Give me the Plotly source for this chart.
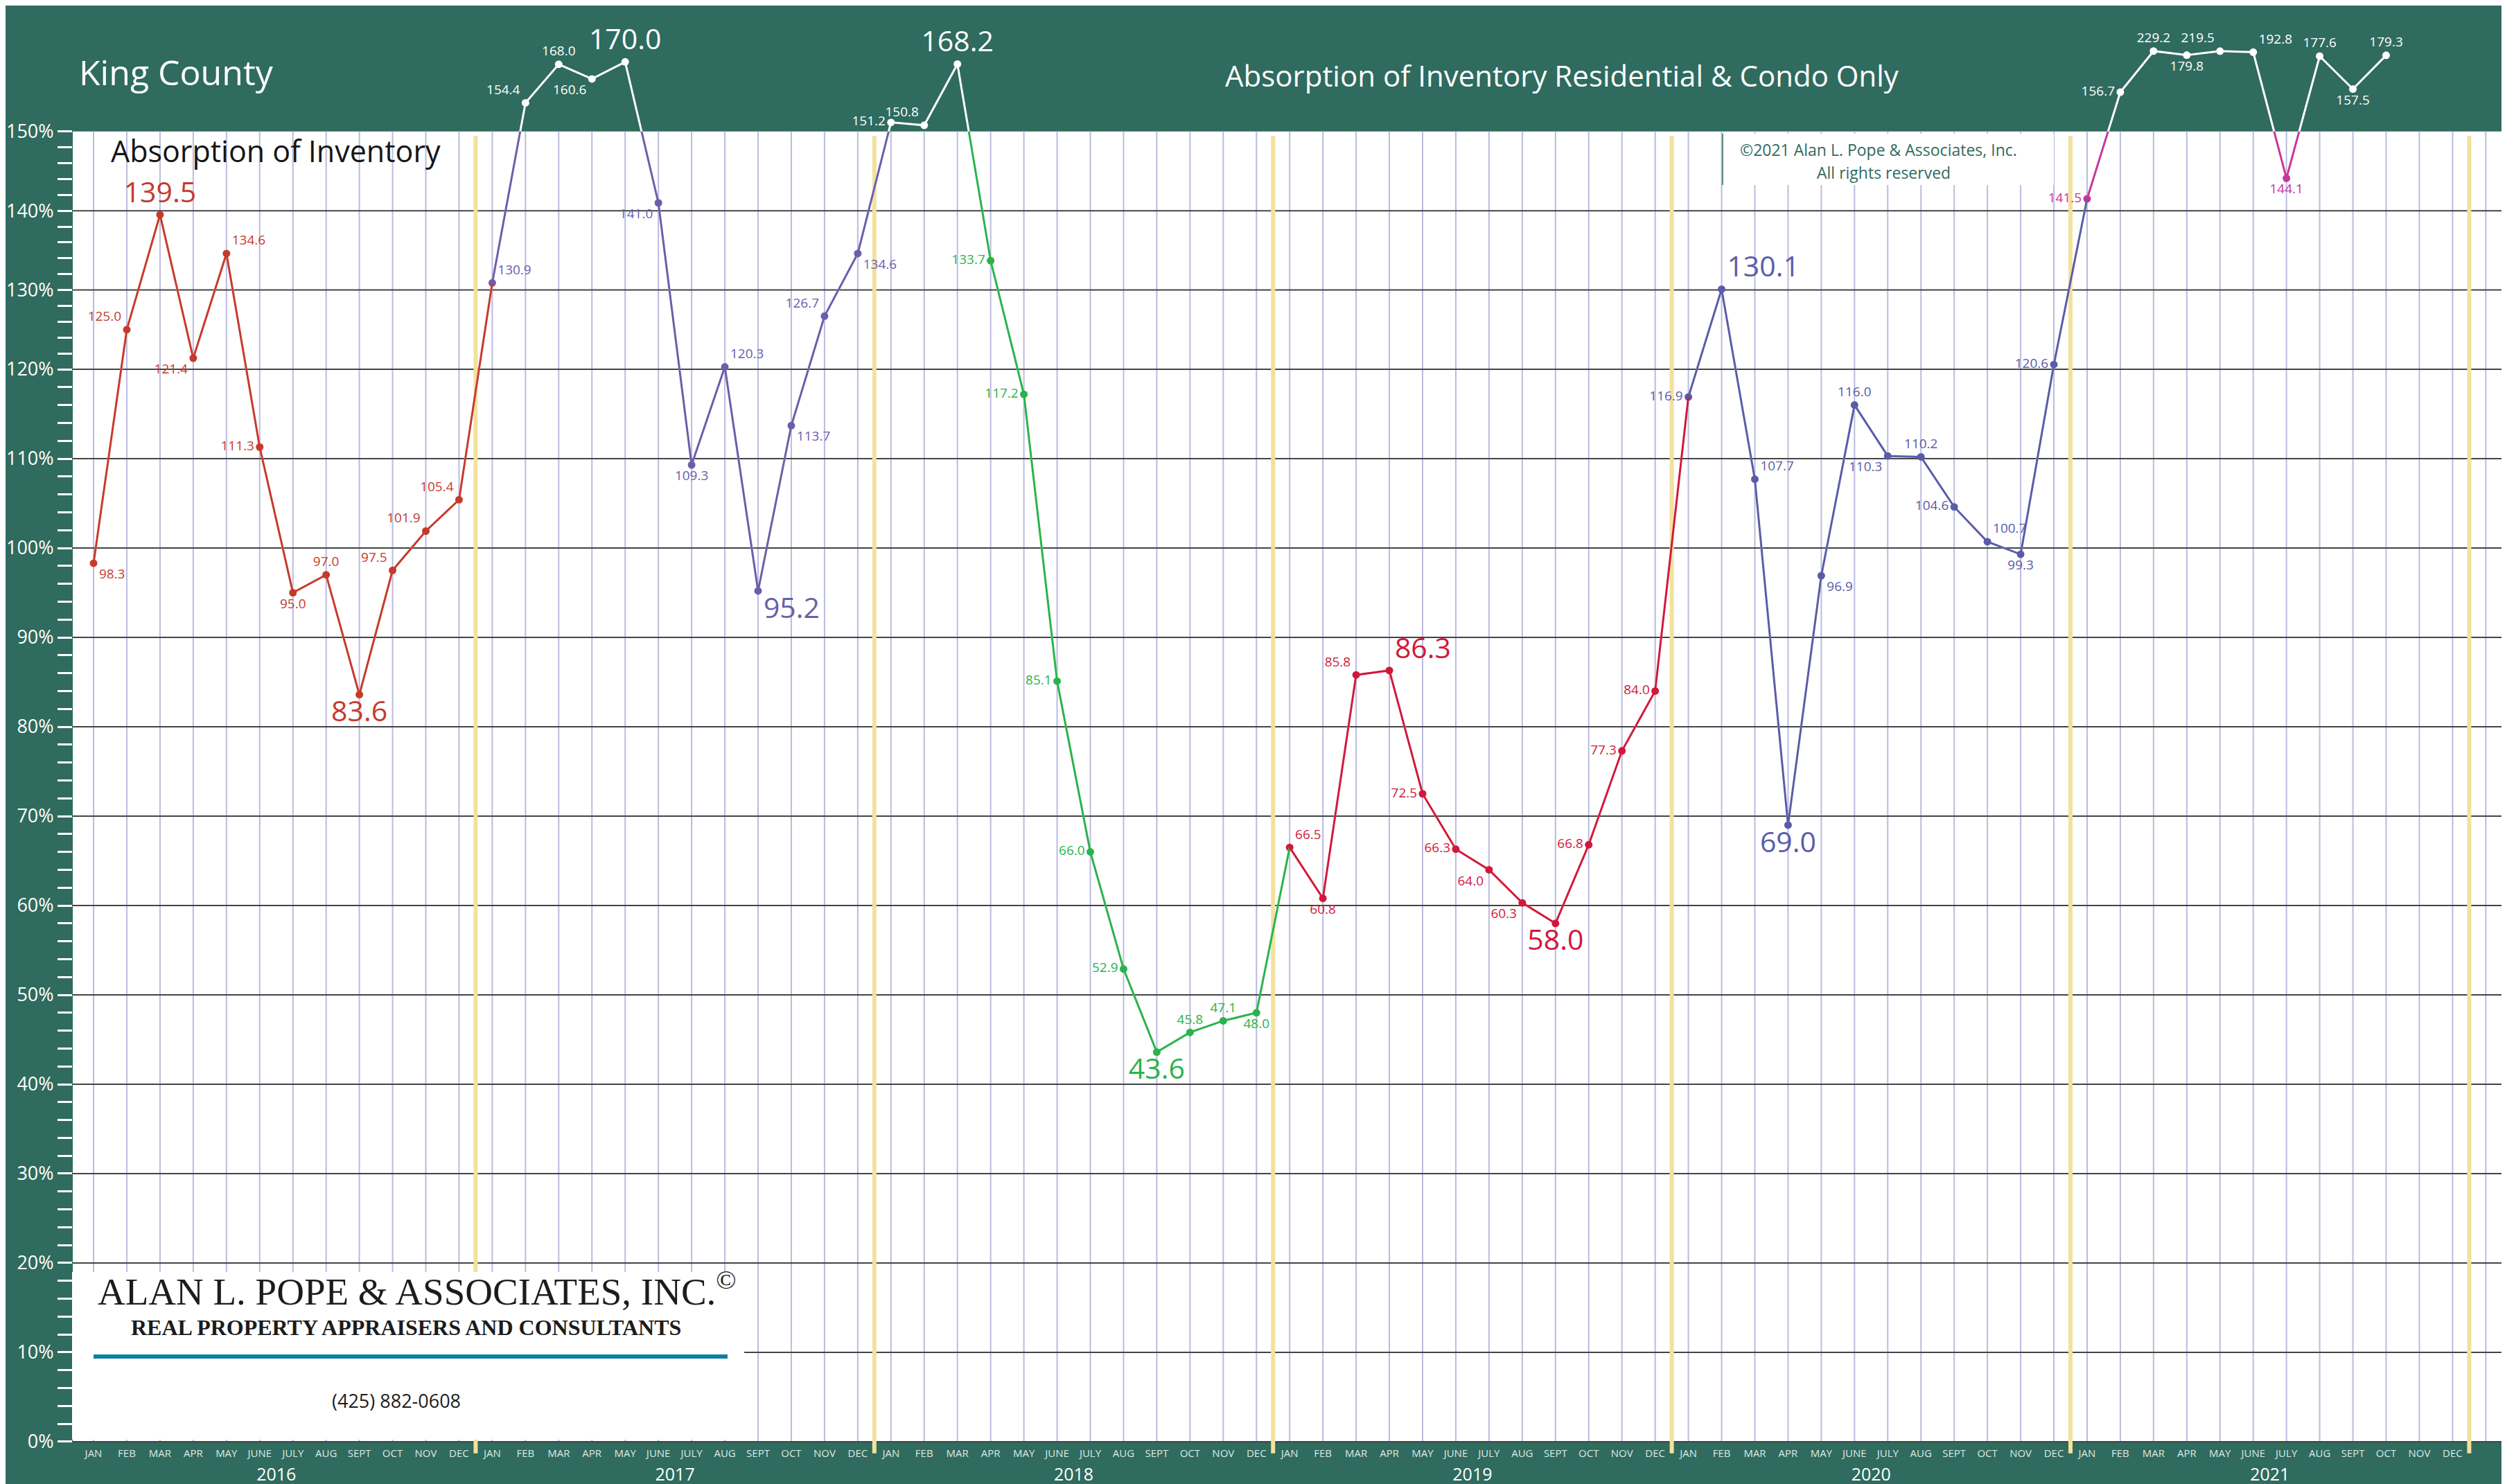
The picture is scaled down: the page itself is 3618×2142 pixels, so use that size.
import numpy as np
import plotly.graph_objects as go

# ---------------- data ----------------
YEARS = [2016, 2017, 2018, 2019, 2020, 2021]
MONTHS = ["JAN", "FEB", "MAR", "APR", "MAY", "JUNE", "JULY", "AUG", "SEPT", "OCT", "NOV", "DEC"]
Y_TICK_VALUES = list(range(0, 151, 2))
Y_GRID_VALUES = list(range(0, 141, 10))

V2016 = [98.3, 125.0, 139.5, 121.4, 134.6, 111.3, 95.0, 97.0, 83.6, 97.5, 101.9, 105.4]
V2017 = [130.9, 154.4, 168.0, 160.6, 170.0, 141.0, 109.3, 120.3, 95.2, 113.7, 126.7, 134.6]
V2018 = [151.2, 150.8, 168.2, 133.7, 117.2, 85.1, 66.0, 52.9, 43.6, 45.8, 47.1, 48.0]
V2019 = [66.5, 60.8, 85.8, 86.3, 72.5, 66.3, 64.0, 60.3, 58.0, 66.8, 77.3, 84.0]
V2020 = [116.9, 130.1, 107.7, 69.0, 96.9, 116.0, 110.3, 110.2, 104.6, 100.7, 99.3, 120.6]
V2021 = [141.5, 156.7, 229.2, 179.8, 219.5, 192.8, 144.1, 177.6, 157.5, 179.3]
VALUES = [V2016, V2017, V2018, V2019, V2020, V2021]

# label placement (style)
P2016 = ["bottom right", "top left", "top center", "bottom left", "top right", "middle left",
         "bottom center", "top center", "bottom center", "top left", "top left", "top left"]
P2017 = ["top right", "top left", "top center", "bottom left", "top center", "bottom left",
         "bottom center", "top right", "bottom right", "bottom right", "top left", "bottom right"]
P2018 = ["middle left", "top left", "top center", "middle left", "middle left", "middle left",
         "middle left", "middle left", "bottom center", "top center", "top center", "bottom center"]
P2019 = ["top right", "bottom center", "top left", "top right", "middle left", "middle left",
         "bottom left", "bottom left", "bottom center", "middle left", "middle left", "middle left"]
P2020 = ["middle left", "top right", "top right", "bottom center", "bottom right", "top center",
         "bottom left", "top center", "middle left", "top right", "bottom center", "middle left"]
P2021 = ["middle left", "middle left", "top center", "bottom center", "top left", "top right",
         "bottom center", "top center", "bottom center", "top center"]
POSITIONS = [P2016, P2017, P2018, P2019, P2020, P2021]

COLORS = ["#c63a2c", "#6b5eaa", "#2ab34b", "#d1193b", "#5a5ca8", "#c8369b"]
GREEN = "#2f6b5e"
LAVENDER = "#bbbbdf"
YELLOW = "#f3e19c"
LABEL_FONT = "Liberation Sans Narrow, Open Sans"

# ---------------- geometry ----------------
W, H = 3618, 2142
ML = 97
Y0, Y1 = -5.35, 160.7
X0, X1 = -0.626, 72.805
CAP = 150.0


def warp(v):
    """Display transform: slight compression above 120%, saturating overflow above 150%."""
    v = np.asarray(v, dtype=float)
    base = np.where(v <= 120, v, 120 + (v - 120) * 0.887)
    top = 120 + (CAP - 120) * 0.887
    over = np.clip(v - CAP, 0, None)
    return np.where(v <= CAP, base, top + 9.0 * (1 - np.exp(-over / 10.0)))


Y_CAP = float(warp(CAP))


def pxx(xf):
    return (xf - ML) / (W - ML)


def pxy(yf):
    return 1 - yf / H


fig = go.Figure()

# full series in white (visible only in the header above 150%)
all_vals = [v for vals in VALUES for v in vals]
fig.add_trace(go.Scatter(
    x=list(range(len(all_vals))), y=warp(all_vals), mode="lines",
    line=dict(color="white", width=3), xaxis="x", yaxis="y",
    hoverinfo="skip", showlegend=False))

# coloured segments per year (clipped at 150% by the yaxis2 domain)
start = 0
starts = []
for vals in VALUES:
    starts.append(start)
    start += len(vals)
for k, vals in enumerate(VALUES):
    xs = list(range(starts[k], starts[k] + len(vals)))
    ys = list(vals)
    if k + 1 < len(VALUES):
        xs.append(starts[k + 1])
        ys.append(VALUES[k + 1][0])
    fig.add_trace(go.Scatter(
        x=xs, y=warp(ys), mode="lines", line=dict(color=COLORS[k], width=3),
        xaxis="x", yaxis="y2", hoverinfo="skip", showlegend=False))

# markers + labels (on an overlay axis so they sit above every line)
for k, vals in enumerate(VALUES):
    xs = list(range(starts[k], starts[k] + len(vals)))
    arr = np.array(vals)
    big = np.zeros(len(vals), dtype=bool)
    if len(vals) == 12:
        big[int(arr.argmax())] = True
        big[int(arr.argmin())] = True
    cols = ["white" if v > CAP else COLORS[k] for v in vals]
    sizes = [41 if b else 19 for b in big]
    fig.add_trace(go.Scatter(
        x=xs, y=warp(vals), mode="markers+text",
        marker=dict(color=cols, size=11),
        text=[f"{v:.1f}" for v in vals], textposition=POSITIONS[k],
        textfont=dict(color=cols, size=sizes, family=LABEL_FONT),
        cliponaxis=False, xaxis="x", yaxis="y3", hoverinfo="skip", showlegend=False))

# month and year labels
n_months = 12 * len(YEARS)
fig.add_trace(go.Scatter(
    x=list(range(n_months)), y=[-1.45] * n_months, mode="text",
    text=MONTHS * len(YEARS),
    textfont=dict(color="#dfe9e5", size=15, family=LABEL_FONT),
    xaxis="x", yaxis="y", hoverinfo="skip", showlegend=False))
fig.add_trace(go.Scatter(
    x=[12 * k + 5.5 for k in range(len(YEARS))], y=[-3.85] * len(YEARS), mode="text",
    text=[str(y) for y in YEARS],
    textfont=dict(color="white", size=25, family="Open Sans"),
    xaxis="x", yaxis="y", hoverinfo="skip", showlegend=False))

# ---------------- shapes ----------------
shapes = []
shapes.append(dict(type="rect", xref="x", yref="y", x0=X0, x1=X1, y0=0, y1=Y_CAP,
                   fillcolor="white", line=dict(width=0), layer="below"))
for i in range(n_months + 1):
    shapes.append(dict(type="line", xref="x", yref="y", x0=i, x1=i, y0=0, y1=Y_CAP,
                       line=dict(color=LAVENDER, width=2), layer="below"))
for g in Y_GRID_VALUES:
    gy = float(warp(g))
    shapes.append(dict(type="line", xref="x", yref="y", x0=X0, x1=X1, y0=gy, y1=gy,
                       line=dict(color="#444444", width=2), layer="below"))
for k in range(len(YEARS)):
    xb = 12 * k + 11.5
    shapes.append(dict(type="line", xref="x", yref="y", x0=xb, x1=xb, y0=-1.3, y1=Y_CAP - 0.5,
                       line=dict(color=YELLOW, width=6), layer="below"))

# logo box
shapes.append(dict(type="rect", xref="paper", yref="paper", x0=pxx(96), x1=pxx(1066),
                   y0=pxy(2070), y1=pxy(1828), fillcolor="white", line=dict(width=0), layer="above"))
shapes.append(dict(type="line", xref="paper", yref="paper", x0=pxx(127), x1=pxx(1042),
                   y0=pxy(1950), y1=pxy(1950), line=dict(color="#0b7fa6", width=6), layer="above"))
# copyright box
shapes.append(dict(type="rect", xref="paper", yref="paper", x0=pxx(2478), x1=pxx(2956),
                   y0=pxy(259), y1=pxy(185), fillcolor="white", line=dict(width=0), layer="above"))
shapes.append(dict(type="line", xref="paper", yref="paper", x0=pxx(2478), x1=pxx(2478),
                   y0=pxy(259), y1=pxy(185), line=dict(color="#2f6b5e", width=1.5), layer="above"))

# ---------------- annotations ----------------
ann = []
ann.append(dict(text="King County", x=pxx(104), y=pxy(96), xref="paper", yref="paper",
                xanchor="left", yanchor="middle", showarrow=False,
                font=dict(family="Open Sans", size=50, color="white")))
ann.append(dict(text="Absorption of Inventory Residential &amp; Condo Only", x=pxx(2246), y=pxy(100),
                xref="paper", yref="paper", xanchor="center", yanchor="middle", showarrow=False,
                font=dict(family="Open Sans", size=42, color="white")))
ann.append(dict(text="Absorption of Inventory", x=pxx(150), y=pxy(210), xref="paper", yref="paper",
                xanchor="left", yanchor="middle", showarrow=False,
                font=dict(family="Open Sans", size=43, color="#151515")))
ann.append(dict(text="©2021 Alan L. Pope &amp; Associates, Inc.", x=pxx(2703), y=pxy(208),
                xref="paper", yref="paper", xanchor="center", yanchor="middle", showarrow=False,
                font=dict(family="Open Sans", size=23, color=GREEN)))
ann.append(dict(text="All rights reserved", x=pxx(2710), y=pxy(241),
                xref="paper", yref="paper", xanchor="center", yanchor="middle", showarrow=False,
                font=dict(family="Open Sans", size=23, color=GREEN)))
ann.append(dict(text="ALAN L. POPE &amp; ASSOCIATES, INC.<sup>©</sup>", x=pxx(594), y=pxy(1852),
                xref="paper", yref="paper", xanchor="center", yanchor="middle", showarrow=False,
                font=dict(family="Liberation Serif", size=55, color="#1c1c1c")))
ann.append(dict(text="<b>REAL PROPERTY APPRAISERS AND CONSULTANTS</b>", x=pxx(578), y=pxy(1908),
                xref="paper", yref="paper", xanchor="center", yanchor="middle", showarrow=False,
                font=dict(family="Liberation Serif", size=32, color="#1c1c1c")))
ann.append(dict(text="(425) 882-0608", x=pxx(564), y=pxy(2013),
                xref="paper", yref="paper", xanchor="center", yanchor="middle", showarrow=False,
                font=dict(family=LABEL_FONT, size=27, color="#1c1c1c")))

fig.update_layout(
    width=W, height=H, autosize=False,
    margin=dict(l=ML, r=0, t=0, b=0, pad=0),
    paper_bgcolor=GREEN, plot_bgcolor="rgba(0,0,0,0)",
    showlegend=False,
    xaxis=dict(range=[X0, X1], showgrid=False, zeroline=False, showticklabels=False,
               ticks="", showline=False, anchor="y", fixedrange=True),
    yaxis=dict(range=[Y0, Y1], domain=[0, 1], showgrid=False, zeroline=False, showline=False,
               tickvals=[float(warp(v)) for v in Y_TICK_VALUES],
               ticktext=[f"{v}%" if v % 10 == 0 else "" for v in Y_TICK_VALUES],
               ticks="outside", ticklen=21, tickwidth=3, tickcolor="white",
               tickfont=dict(family="Open Sans", size=27, color="white"), fixedrange=True),
    yaxis2=dict(range=[Y0, Y_CAP], domain=[0, (Y_CAP - Y0) / (Y1 - Y0)], anchor="x",
                visible=False, fixedrange=True),
    yaxis3=dict(range=[Y0, Y1], overlaying="y", anchor="x", visible=False, fixedrange=True),
    shapes=shapes, annotations=ann,
)

fig.write_html("out.html")
